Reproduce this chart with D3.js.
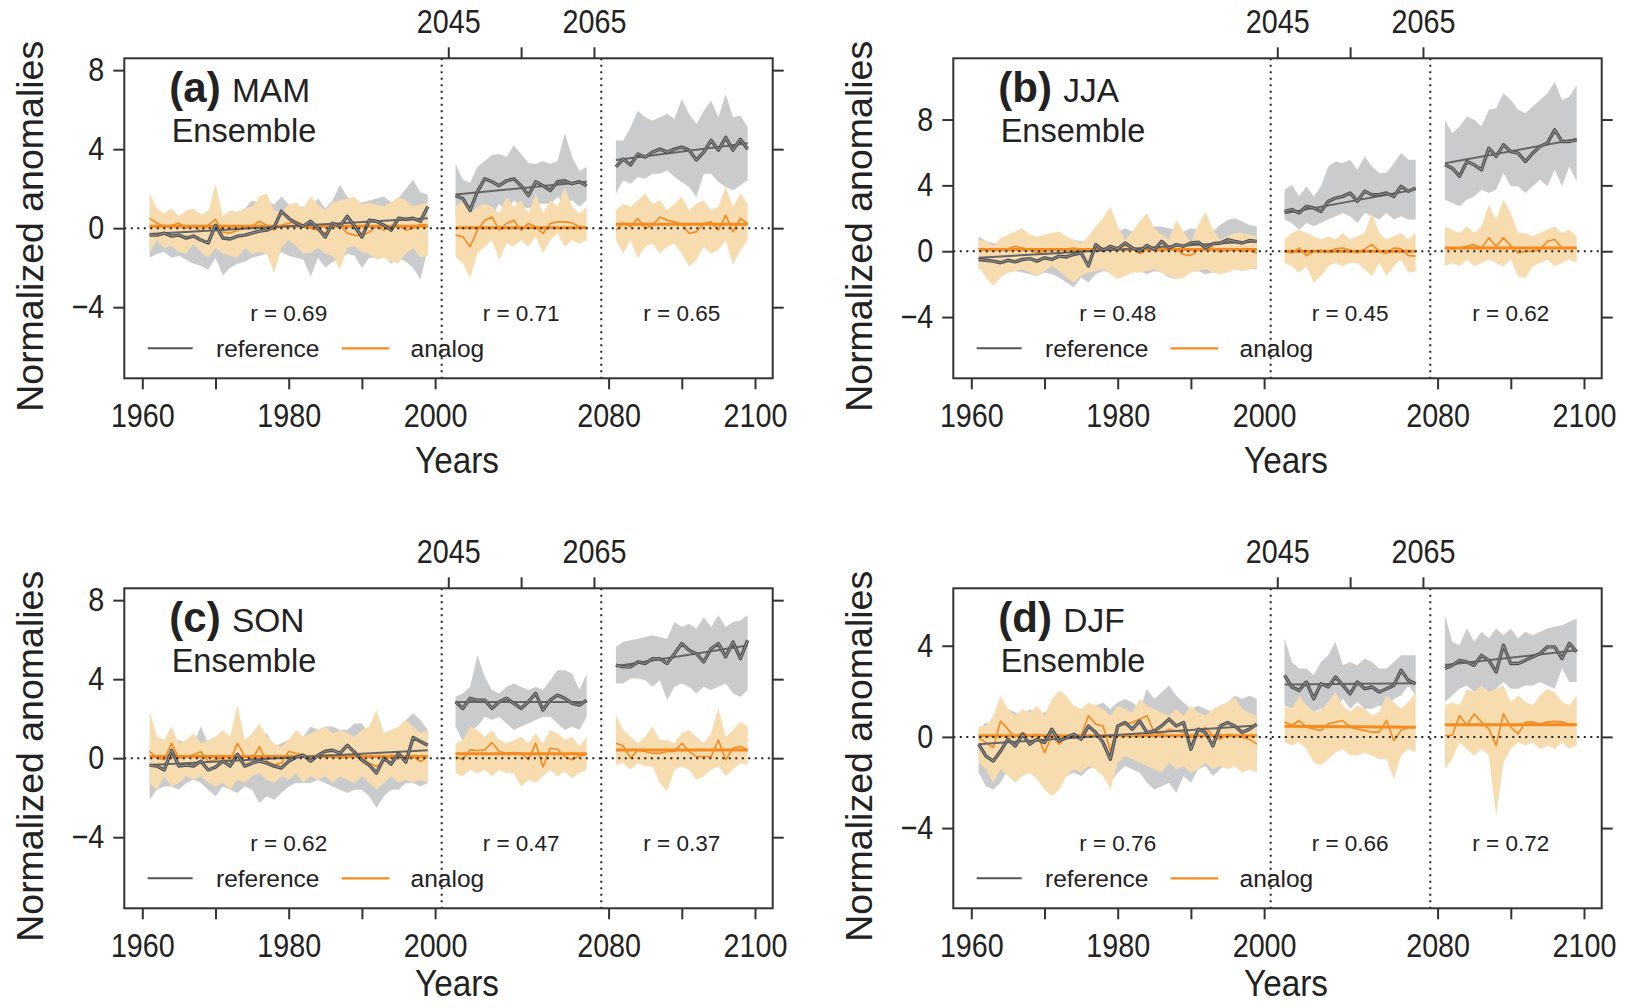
<!DOCTYPE html>
<meta charset="utf-8">
<script src="https://d3js.org/d3.v7.min.js"></script>
<style>
  body { margin: 0; background: #fff; overflow: hidden; }
  svg text { font-family: "Liberation Sans", Arial, Helvetica, sans-serif; fill: #222; }
</style>
<body>
<div id="chart"></div>
<script>
// years shown in each of the three blocks
const segments = [[1961, 1999], [2046, 2064], [2081, 2099]];
const years = segments.flatMap(([a, b]) => d3.range(a, b + 1));

const bottomTicks = [1960, 1970, 1980, 1990, 2000, 2080, 2090, 2100];
const bottomLabels = [1960, 1980, 2000, 2080, 2100];
const topTicks = [2045, 2055, 2065];
const topLabels = [2045, 2065];

// ---- MAM ----
const mamRef = [-0.35,-0.35,-0.25,-0.4,-0.35,-0.5,-0.4,-0.6,-0.75,0.15,-0.5,-0.55,-0.4,-0.35,-0.25,-0.15,-0.1,0.05,0.85,0.5,0.25,0.1,0.35,0.0,-0.45,0.25,0.1,0.6,0.1,-0.45,0.4,0.35,0.15,-0.1,0.5,0.45,0.5,0.35,1.1,
  1.65,1.5,0.9,1.85,2.5,2.35,2.15,2.4,2.5,2.15,1.65,2.35,2.15,1.9,2.35,2.4,2.25,2.35,2.15,
  3.1,3.5,3.2,3.75,3.6,3.85,4.0,3.85,4.0,4.1,3.95,3.45,3.85,4.45,3.95,4.6,3.95,4.5,4.0];
const mamRefLo = [-1.5,-1.3,-1.2,-1.5,-1.4,-1.6,-1.8,-1.9,-2.1,-1.5,-2.4,-2.0,-1.8,-1.7,-1.5,-1.4,-1.3,-1.6,-1.2,-1.4,-1.5,-1.6,-2.45,-1.5,-2.0,-1.7,-1.6,-1.3,-1.4,-2.0,-1.5,-1.5,-1.4,-1.8,-1.5,-1.7,-2.0,-2.6,-1.0,
  0.57,0.4,0.74,0.91,1.08,0.57,1.24,0.74,1.41,1.08,0.99,1.24,1.24,1.24,1.58,1.24,1.41,1.08,1.41,
  1.75,2.42,2.25,2.59,2.5,2.76,2.76,2.92,2.59,2.34,2.08,1.58,2.76,2.76,2.34,2.08,1.92,2.17,2.42];
const mamRefHi = [0.9,0.7,0.6,0.8,0.5,0.6,0.7,0.5,0.9,1.1,0.5,0.7,0.8,1.0,1.4,1.3,1.4,1.2,1.6,1.2,1.0,1.1,1.0,1.5,1.0,1.4,2.2,1.6,1.2,1.3,1.4,1.5,1.6,1.3,1.5,2.0,2.45,1.8,1.7,
  3.25,2.45,2.3,3.1,3.4,3.7,3.75,3.6,4.2,3.75,3.3,3.25,3.4,3.25,3.4,4.8,3.6,2.9,3.1,
  4.44,4.44,5.11,5.95,5.61,5.45,5.61,5.78,5.53,6.54,5.78,5.28,5.95,6.45,5.61,6.79,5.61,5.7,5.11];
const mamAna = [0.5,0.25,0.1,0.15,0.25,0.0,0.1,-0.15,0.15,0.45,-0.2,-0.25,-0.1,0.0,0.1,0.35,0.15,-0.1,0.15,0.25,0.35,0.15,0.0,-0.1,-0.25,0.1,0.15,-0.25,-0.35,-0.4,-0.2,0.1,-0.1,0.1,0.15,-0.1,0.0,0.2,0.15,
  -0.35,-0.44,-0.94,-0.1,0.4,0.57,-0.1,0.24,0.4,-0.1,0.24,0.07,-0.27,0.24,0.32,0.32,0.27,0.07,0.03,
  -0.1,0.27,0.07,0.49,-0.02,0.15,0.57,0.4,0.32,0.2,-0.27,-0.18,0.24,0.32,-0.1,0.66,-0.18,0.49,0.24];
const mamAnaLo = [-1.25,-0.6,-1.0,-0.9,-1.2,-1.3,-0.8,-1.2,-1.5,-1.0,-1.3,-1.4,-1.5,-1.0,-1.3,-1.2,-1.3,-2.27,-1.0,-0.6,-0.9,-1.3,-1.25,-1.0,-1.3,-1.4,-2.1,-1.0,-0.9,-1.2,-1.3,-1.6,-1.5,-1.7,-1.76,-1.3,-1.0,-1.5,-1.4,
  -1.45,-1.78,-2.54,-1.28,-0.94,-0.61,-1.61,-0.77,-0.94,-0.61,-0.94,-0.44,-1.28,-0.61,-0.27,-0.94,-0.61,-0.77,-0.61,
  -0.61,-1.28,-0.61,-1.53,-0.94,-0.77,-1.28,-0.94,-0.77,-1.28,-1.95,-1.61,-0.94,-1.28,-1.11,-0.61,-1.87,-1.11,-0.61];
const mamAnaHi = [1.75,1.0,0.75,1.0,0.6,0.9,1.0,0.7,0.8,2.25,0.6,0.9,0.8,1.0,1.1,1.6,1.75,0.9,0.8,1.2,1.3,1.0,1.6,1.2,0.9,1.3,1.4,1.5,1.6,1.2,1.3,1.2,1.1,1.3,1.6,1.4,1.1,1.2,1.3,
  1.08,1.41,0.74,1.08,1.24,1.08,0.74,1.58,1.08,1.41,0.74,1.75,0.74,1.41,1.08,2.08,1.08,0.74,1.08,
  0.91,1.24,1.08,1.41,1.75,1.24,1.41,0.91,1.24,1.58,0.91,1.24,1.41,0.91,1.08,2.08,1.08,1.75,1.24];
const mamRefTrend = [[-0.3, 0.5], [1.7, 2.35], [3.45, 4.3]];
const mamAnaTrend = [[0.1, 0.1], [0.02, 0.02], [0.2, 0.2]];

// ---- JJA ----
const jjaRef = [-0.5,-0.55,-0.6,-0.7,-0.55,-0.65,-0.5,-0.45,-0.6,-0.4,-0.5,-0.3,-0.35,-0.2,-0.1,-0.9,0.4,0.05,0.3,0.15,0.5,0.2,0.0,0.35,0.1,0.6,0.2,0.4,0.3,0.5,0.55,0.2,0.45,0.5,0.7,0.6,0.5,0.65,0.6,
  2.42,2.53,2.32,2.73,2.63,2.42,3.03,3.23,3.33,3.54,3.03,3.64,3.43,3.43,3.54,3.33,3.94,3.64,3.84,
  5.25,5.05,4.55,5.45,5.25,4.95,6.26,5.76,6.46,6.06,5.96,5.45,5.96,6.36,6.57,7.37,6.67,6.67,6.77];
const jjaRefLo = [-1.1,-1.0,-1.2,-1.1,-1.3,-1.2,-1.3,-1.4,-1.5,-1.3,-1.4,-1.6,-1.9,-2.2,-1.6,-1.9,-1.4,-1.2,-1.3,-1.3,-1.4,-1.3,-1.2,-1.4,-1.2,-1.3,-1.6,-1.7,-1.5,-1.3,-1.2,-1.4,-1.3,-1.2,-1.1,-1.0,-1.2,-1.1,-1.1,
  1.92,1.72,1.31,1.72,1.52,1.72,1.92,2.12,2.32,2.12,1.72,2.32,2.12,1.92,2.32,1.92,2.12,1.92,1.92,
  3.13,2.93,2.73,3.13,3.33,3.74,3.54,3.74,4.75,3.94,3.94,3.54,3.94,4.34,3.94,4.95,3.94,5.15,4.24];
const jjaRefHi = [0.9,0.6,0.5,0.4,0.5,0.6,0.5,0.7,0.8,0.6,0.9,0.9,0.8,0.7,0.6,0.7,1.0,1.5,1.3,1.2,1.4,1.2,1.1,1.3,1.5,1.5,1.4,1.3,1.2,1.4,1.3,1.3,1.2,1.6,1.9,2.0,1.8,1.6,1.5,
  3.74,4.04,3.33,3.94,3.33,3.94,5.15,5.45,5.35,5.56,4.95,5.76,5.15,4.75,4.75,5.35,5.96,5.56,5.56,
  7.98,7.17,7.58,8.18,7.98,7.58,8.59,8.69,9.6,9.19,8.59,8.38,8.79,9.19,9.6,10.3,9.19,9.39,10.1];
const jjaAna = [0.1,0.15,0.0,0.1,0.15,0.3,0.2,0.1,-0.1,0.0,0.1,0.05,0.15,0.2,0.1,0.0,0.1,0.2,0.15,0.05,0.35,0.2,-0.15,0.1,0.2,0.0,0.25,0.1,-0.2,-0.25,0.05,0.1,0.2,-0.05,0.1,0.15,0.0,0.05,-0.1,
  0,-0.1,0.2,-0.26,0,0.06,-0.06,0.14,0.2,0.06,-0.1,0.14,0.4,0,-0.14,0.2,0.14,-0.26,-0.3,
  0.2,0.14,0.2,0.3,0.4,0.2,0.81,0.3,0.81,0.34,-0.1,0,0,0.1,0.61,0.71,0.2,0.2,0.2];
const jjaAnaLo = [-0.9,-1.6,-2.1,-1.6,-1.3,-1.2,-1.1,-1.3,-1.5,-1.2,-0.9,-1.2,-1.6,-1.9,-1.5,-1.3,-1.2,-1.1,-1.4,-1.7,-1.5,-1.3,-1.3,-1.2,-1.1,-1.3,-1.5,-1.7,-1.6,-1.3,-1.2,-1.1,-1.3,-1.4,-1.3,-1.1,-1.2,-1.1,-1.0,
  -0.71,-0.91,-1.31,-0.91,-1.92,-1.52,-0.91,-0.71,-0.91,-0.71,-0.71,-1.11,-1.52,-0.71,-1.52,-0.91,-0.51,-1.31,-1.21,
  -0.91,-0.71,-0.91,-0.51,-0.91,-0.71,-0.51,-0.71,-0.91,-0.51,-1.52,-1.62,-0.91,-0.71,-0.51,-0.91,-0.71,-0.51,-0.71];
const jjaAnaHi = [0.7,0.6,0.3,0.8,1.0,1.2,1.4,1.0,0.9,1.0,1.1,1.2,0.9,0.7,0.5,0.9,1.5,2.0,2.7,1.5,0.7,1.2,1.8,2.3,1.4,1.0,0.7,1.9,1.2,0.5,1.6,2.4,1.3,0.7,0.9,1.1,1.1,1.0,0.9,
  0.71,1.11,1.31,1.11,0.91,0.71,0.91,0.71,1.11,0.71,0.91,1.11,2.32,1.11,0.71,0.91,1.11,0.71,1.11,
  1.52,1.31,1.11,1.52,1.11,1.52,2.83,1.92,3.13,2.32,1.11,1.11,0.91,1.11,1.31,1.52,1.11,1.31,0.91];
const jjaRefTrend = [[-0.4, 0.6], [2.3, 3.75], [5.35, 6.8]];
const jjaAnaTrend = [[0.1, 0.1], [0.0, 0.0], [0.2, 0.2]];

// ---- SON ----
const sonRef = [-0.35,-0.4,-0.6,0.4,-0.4,-0.35,-0.4,-0.15,-0.6,-0.45,-0.15,-0.4,0.2,-0.4,-0.25,-0.15,-0.25,-0.4,-0.5,-0.15,0.05,0.15,-0.15,0.15,0.35,0.4,0.25,0.65,0.3,-0.1,-0.35,-0.75,0.0,-0.3,0.25,-0.2,1.05,0.85,0.65,
  2.86,2.52,3.03,2.94,2.94,2.52,2.86,3.03,2.77,2.52,2.86,3.28,2.44,2.94,3.19,3.03,2.77,2.69,2.94,
  4.71,4.62,4.62,4.87,4.79,5.04,5.04,4.79,5.29,5.8,5.46,5.29,4.87,5.55,5.8,5.13,5.88,5.04,5.97];
const sonRefLo = [-2.1,-1.6,-1.43,-1.43,-1.6,-1.26,-1.09,-1.26,-1.6,-1.93,-1.43,-1.6,-1.76,-1.43,-1.6,-2.27,-1.93,-2.1,-1.76,-1.43,-1.26,-1.26,-1.26,-1.09,-1.26,-1.43,-1.6,-1.76,-1.6,-1.6,-1.93,-2.52,-1.93,-1.6,-1.6,-1.26,-1.26,-1.43,-1.26,
  1.6,0.84,1.43,1.6,2.1,1.93,2.1,1.76,1.43,1.6,1.76,1.93,2.1,2.1,1.76,1.43,1.6,1.43,2.1,
  3.78,3.78,4.03,4.03,3.95,3.61,3.95,2.94,3.61,3.78,3.61,3.28,3.61,3.45,3.61,3.78,3.28,3.11,3.45];
const sonRefHi = [0.76,1.09,0.76,0.59,0.92,0.76,0.76,1.6,0.76,0.59,0.92,0.76,0.59,0.76,0.76,0.92,1.26,0.59,0.76,0.92,1.26,1.09,1.6,1.43,1.6,1.6,1.43,1.43,1.76,1.76,1.26,1.6,1.09,1.43,1.26,1.93,2.27,1.93,1.43,
  3.11,3.28,3.61,5.21,4.12,3.45,3.28,3.61,3.78,3.61,3.45,3.61,3.45,3.95,4.45,4.45,4.29,3.45,4.29,
  5.63,5.88,5.97,6.05,6.13,6.22,6.13,6.05,6.89,6.64,6.81,6.55,7.14,6.64,7.23,6.64,6.89,6.97,7.23];
const sonAna = [0.34,0,-0.08,0.76,0,0.08,0.17,0.34,-0.17,-0.08,0,-0.17,0.76,0.08,-0.08,0.59,-0.17,-0.34,-0.25,0.34,0.25,0.17,-0.08,0.08,0.17,0.17,0,0.08,0.17,0,-0.25,-0.42,-0.17,0.17,0.08,-0.08,0.08,-0.17,0.08,
  0.08,-0.08,0.42,0.39,0.42,0.79,0.34,0.25,0.29,0.25,-0.08,0.76,-0.45,0.5,0.45,0.08,-0.08,0.12,0.17,
  0.76,0.62,0,0.42,0.34,0.25,0.25,0.34,0.34,0.76,0.34,0.08,0.08,0.08,0.92,-0.08,0.5,0.59,0.42];
const sonAnaLo = [-1.26,-1.6,-0.92,-1.43,-1.26,-0.92,-1.09,-0.92,-1.26,-1.43,-1.26,-1.6,-1.09,-1.26,-0.92,-0.76,-1.09,-1.26,-0.92,-1.09,-0.76,-1.26,-0.92,-1.09,-0.92,-1.26,-0.92,-1.09,-1.26,-0.92,-1.26,-1.6,-1.26,-0.92,-1.26,-1.09,-1.26,-1.09,-1.26,
  -0.76,-0.92,-0.59,-0.76,-0.59,-0.92,-0.59,-0.76,-0.76,-1.43,-1.09,-1.26,-0.92,-0.59,-0.92,-0.67,-1.01,-0.76,-0.59,
  -0.34,-0.25,-0.59,-0.25,-0.42,-0.42,-1.26,-1.68,-0.59,-0.42,-0.59,-1.09,-0.92,-0.59,-0.42,-0.92,-0.59,-0.25,-0.34];
const sonAnaHi = [2.35,1.09,0.92,1.6,0.76,0.92,1.26,0.76,0.92,1.09,1.43,1.09,2.69,0.92,1.26,1.76,1.09,0.76,0.59,0.92,1.43,1.09,1.26,1.43,1.6,1.26,1.43,1.26,1.09,1.43,1.6,2.44,1.26,1.43,1.6,1.93,1.6,1.26,1.43,
  0.76,0.92,1.6,1.43,1.09,1.43,0.92,0.76,0.92,1.09,0.76,1.26,0.76,1.43,1.26,0.92,1.09,0.59,1.09,
  2.18,1.43,1.09,0.76,1.09,1.6,0.92,0.92,0.76,1.26,1.43,1.09,0.76,1.26,2.52,1.09,1.43,1.85,1.6];
const sonRefTrend = [[-0.35, 0.4], [2.85, 2.85], [4.65, 5.7]];
const sonAnaTrend = [[0.08, 0.08], [0.22, 0.22], [0.42, 0.42]];

// ---- DJF ----
const djfRef = [-0.32,-0.84,-1.06,-0.62,-0.1,-0.4,0.12,-0.32,-0.1,-0.25,0.34,-0.18,-0.03,0.12,-0.1,0.48,0.19,-0.25,-0.98,0.48,0.63,0.34,0.7,0.19,0.26,0.48,0.78,0.48,0.63,-0.54,0.34,0.19,-0.4,0.48,0.63,0.48,0.19,0.34,0.56,
  2.7,2.19,2.04,2.41,1.67,2.33,2.19,2.63,2.26,1.89,2.41,2.11,2.19,1.97,2.11,2.26,2.92,2.48,2.33,
  3.0,3.14,3.36,3.29,3.14,3.58,3.36,2.85,4.02,3.22,3.22,3.36,3.51,3.66,3.95,3.95,3.44,4.1,3.73];
const djfRefLo = [-1.57,-2.16,-2.31,-2.01,-1.42,-1.13,-1.42,-1.28,-1.57,-1.72,-2.01,-1.57,-1.72,-1.57,-1.72,-1.42,-1.28,-1.57,-2.01,-1.57,-1.28,-1.42,-1.57,-2.01,-2.31,-2.16,-2.01,-2.45,-1.72,-2.01,-1.42,-1.28,-1.72,-1.42,-1.13,-1.28,-1.42,-1.28,-1.13,
  1.38,1.23,1.53,1.38,1.09,1.23,0.94,1.23,1.67,1.23,1.53,1.23,1.23,1.38,1.23,1.67,1.82,2.26,1.82,
  1.53,1.82,2.11,2.26,1.97,2.11,1.82,2.11,2.41,2.11,2.11,2.26,2.26,2.41,2.26,2.11,3.0,2.41,2.41];
const djfRefHi = [0.34,0.63,0.48,0.78,1.22,1.07,0.93,1.22,0.93,1.07,1.22,1.37,1.22,0.93,1.22,1.07,1.37,1.51,1.22,1.51,1.66,1.51,1.22,2.1,1.66,1.95,2.25,1.81,1.51,1.22,1.37,1.22,1.07,1.37,1.51,1.81,1.66,1.81,1.66,
  4.32,3.29,3.0,3.0,2.7,3.29,3.58,4.17,3.14,3.29,3.14,3.44,3.29,3.0,3.0,3.29,3.58,3.58,3.58,
  5.35,4.17,4.02,4.76,4.17,4.61,4.32,4.76,4.46,4.76,4.32,4.61,4.46,4.61,4.76,4.83,4.9,5.05,5.2];
const djfAna = [-0.03,-0.25,-0.47,0.7,0.34,-0.03,0.19,0.04,0.12,-0.69,0.04,-0.32,0.04,0.12,0.04,0.93,0.56,0.48,-0.62,0.48,0.56,0.63,0.78,0.93,0.19,0.12,0.34,0.26,0.19,-0.03,0.26,0.41,0.04,-0.1,0.12,0.04,-0.03,-0.1,-0.32,
  0.65,0.5,0.72,0.43,0.35,0.28,0.57,0.65,0.72,0.43,0.35,0.28,0.21,0.21,0.72,-0.16,0.28,0.43,0.43,
  0.06,0.06,0.94,0.5,1.01,0.65,0.35,-0.38,1.01,0.43,0.13,0.65,0.65,0.57,0.65,0.68,0.65,0.57,0.53];
const djfAnaLo = [-1.13,-1.42,-2.01,-1.42,-1.72,-2.01,-1.72,-1.57,-1.86,-2.31,-2.6,-2.31,-1.72,-1.42,-1.57,-1.28,-1.42,-1.72,-2.31,-1.13,-0.84,-0.98,-1.13,-1.28,-1.42,-1.57,-1.13,-1.42,-1.28,-1.57,-1.42,-1.13,-1.42,-1.28,-1.42,-1.28,-1.57,-1.42,-1.57,
  -0.23,-0.38,-0.23,-0.53,-1.12,-1.26,-0.97,-0.68,-0.53,-0.82,-0.82,-0.68,-0.82,-0.97,-0.97,-1.85,-0.82,-0.53,-0.68,
  -1.41,-0.97,-0.23,-0.53,-0.82,-0.53,-0.82,-3.47,-1.12,-0.53,-0.23,-0.38,-0.23,-0.53,-0.38,-0.53,-0.23,-0.53,-0.38];
const djfAnaHi = [0.48,0.48,0.93,1.81,1.22,0.93,1.22,1.07,1.37,0.93,1.66,2.03,1.81,1.37,1.22,1.51,1.37,1.22,0.93,1.37,1.22,1.07,1.66,1.37,1.22,1.07,0.93,1.22,0.93,1.37,1.07,0.93,1.22,1.37,1.51,1.73,1.22,1.07,0.93,
  1.31,1.23,1.82,1.38,1.09,1.16,1.53,1.97,1.38,1.09,1.38,1.23,0.94,1.09,1.82,1.53,1.23,1.53,1.97,
  1.38,1.53,1.38,2.11,1.97,2.26,1.97,2.11,2.26,1.53,1.82,1.53,1.38,1.82,2.11,1.97,1.53,1.38,1.82];
const djfRefTrend = [[-0.32, 0.5], [2.3, 2.35], [3.15, 3.8]];
const djfAnaTrend = [[0.05, 0.05], [0.47, 0.42], [0.53, 0.53]];

const panels = [
  { tag: "(a)", season: "MAM", ylim: [-7, 8], yticks: [-4, 0, 4, 8], r: ["0.69", "0.71", "0.65"], left: 124.3, top: 58.3,
    ref: mamRef, refLo: mamRefLo, refHi: mamRefHi, ana: mamAna, anaLo: mamAnaLo, anaHi: mamAnaHi, refTrend: mamRefTrend, anaTrend: mamAnaTrend },
  { tag: "(b)", season: "JJA", ylim: [-7, 11], yticks: [-4, 0, 4, 8], r: ["0.48", "0.45", "0.62"], left: 953.3, top: 58.3,
    ref: jjaRef, refLo: jjaRefLo, refHi: jjaRefHi, ana: jjaAna, anaLo: jjaAnaLo, anaHi: jjaAnaHi, refTrend: jjaRefTrend, anaTrend: jjaAnaTrend },
  { tag: "(c)", season: "SON", ylim: [-7, 8], yticks: [-4, 0, 4, 8], r: ["0.62", "0.47", "0.37"], left: 124.3, top: 588.3,
    ref: sonRef, refLo: sonRefLo, refHi: sonRefHi, ana: sonAna, anaLo: sonAnaLo, anaHi: sonAnaHi, refTrend: sonRefTrend, anaTrend: sonAnaTrend },
  { tag: "(d)", season: "DJF", ylim: [-7, 6], yticks: [-4, 0, 4], r: ["0.76", "0.66", "0.72"], left: 953.3, top: 588.3,
    ref: djfRef, refLo: djfRefLo, refHi: djfRefHi, ana: djfAna, anaLo: djfAnaLo, anaHi: djfAnaHi, refTrend: djfRefTrend, anaTrend: djfAnaTrend }
];

const WIDTH = 1634, HEIGHT = 1008;
const W = 648.4, H = 320;

// the x axis is broken: three blocks of years laid side by side
const axisYears = [1960, 2000, 2045, 2065, 2080, 2100];
const axisUnits = [0, 40, 41.8, 61.7, 63.7, 83.7];
const unitPx = d3.scaleLinear().domain([-2.46, 86.12]).range([0, W]);

const GRAY_BAND = "#c9cbcc", ORANGE_BAND = "#f7dcb0";
const DARK = "#505050", ORANGE = "#f58a1f";

const svg = d3.select("#chart").append("svg")
  .attr("width", WIDTH)
  .attr("height", HEIGHT);

function squeezeText(sel, size, sx) {
  sel.style("font-size", size + "px").attr("transform", `scale(${sx},1)`);
}

panels.forEach(p => {
  const g = svg.append("g").attr("transform", `translate(${p.left},${p.top})`);

  const x = d3.scaleLinear().domain(axisYears).range(axisUnits.map(unitPx));
  const pad = (p.ylim[1] - p.ylim[0]) * 0.04;
  const y = d3.scaleLinear().domain([p.ylim[0] - pad, p.ylim[1] + pad]).range([H, 0]);

  let offset = 0;
  const segs = segments.map(([a, b], k) => {
    const n = b - a + 1;
    const pts = d3.range(n).map(i => ({
      year: years[offset + i],
      ref: p.ref[offset + i], refLo: p.refLo[offset + i], refHi: p.refHi[offset + i],
      ana: p.ana[offset + i], anaLo: p.anaLo[offset + i], anaHi: p.anaHi[offset + i]
    }));
    offset += n;
    return { pts, a, b, refTrend: p.refTrend[k], anaTrend: p.anaTrend[k] };
  });

  const plot = g.append("g");

  const area = (lo, hi) => d3.area().x(d => x(d.year)).y0(d => y(d[lo])).y1(d => y(d[hi]));
  const line = key => d3.line().x(d => x(d.year)).y(d => y(d[key]));

  segs.forEach(s => {
    plot.append("path").datum(s.pts).attr("d", area("refLo", "refHi")).attr("fill", GRAY_BAND);
  });
  segs.forEach(s => {
    plot.append("path").datum(s.pts).attr("d", area("anaLo", "anaHi")).attr("fill", ORANGE_BAND);
  });

  segs.forEach(s => {
    const trend = [{ year: s.a, v: s.anaTrend[0] }, { year: s.b, v: s.anaTrend[1] }];
    plot.append("path").datum(s.pts).attr("d", line("ana"))
      .attr("fill", "none").attr("stroke", ORANGE).attr("stroke-width", 1.6).attr("stroke-linejoin", "round");
    plot.append("path").datum(trend).attr("d", d3.line().x(d => x(d.year)).y(d => y(d.v)))
      .attr("fill", "none").attr("stroke", ORANGE).attr("stroke-width", 3);
  });

  segs.forEach(s => {
    const trend = [{ year: s.a, v: s.refTrend[0] }, { year: s.b, v: s.refTrend[1] }];
    plot.append("path").datum(trend).attr("d", d3.line().x(d => x(d.year)).y(d => y(d.v)))
      .attr("fill", "none").attr("stroke", "#666").attr("stroke-width", 2);
    plot.append("path").datum(s.pts).attr("d", line("ref"))
      .attr("fill", "none").attr("stroke", DARK).attr("stroke-width", 3.4).attr("stroke-linejoin", "round");
    plot.append("path").datum(s.pts).attr("d", line("ref"))
      .attr("fill", "none").attr("stroke", "#8e8e8e").attr("stroke-width", 1.1).attr("stroke-linejoin", "round");
  });

  // dotted zero line and block separators
  g.append("line")
    .attr("x1", 0).attr("x2", W).attr("y1", y(0)).attr("y2", y(0))
    .attr("stroke", "#222").attr("stroke-width", 2).attr("stroke-dasharray", "2,4.5");
  [[segs[0].b, segs[1].a], [segs[1].b, segs[2].a]].forEach(([e, s]) => {
    const sx = (x(e) + x(s)) / 2;
    g.append("line")
      .attr("x1", sx).attr("x2", sx).attr("y1", 0).attr("y2", H)
      .attr("stroke", "#222").attr("stroke-width", 2).attr("stroke-dasharray", "2,4.5");
  });

  // r labels
  segs.forEach((s, k) => {
    g.append("text")
      .attr("x", (x(s.a) + x(s.b)) / 2).attr("y", H - 57.6)
      .attr("text-anchor", "middle").style("font-size", "22.5px")
      .text("r = " + p.r[k]);
  });

  // legend
  const leg = g.append("g").attr("transform", `translate(0,${H - 30})`);
  leg.append("line").attr("x1", 23.4).attr("x2", 68.4).attr("stroke", "#555").attr("stroke-width", 2);
  leg.append("text").attr("x", 91.7).attr("y", 8.4).style("font-size", "24.5px").text("reference");
  leg.append("line").attr("x1", 217.4).attr("x2", 265).attr("stroke", ORANGE).attr("stroke-width", 2.2);
  leg.append("text").attr("x", 286.3).attr("y", 8.4).style("font-size", "24.5px").text("analog");

  // title
  const t = g.append("text").attr("x", 45).attr("y", 43.7);
  t.append("tspan").style("font-weight", "bold").style("font-size", "42px").text(p.tag);
  t.append("tspan").style("font-size", "33.5px").attr("dx", 2).text(" " + p.season);
  g.append("text").attr("x", 47.4).attr("y", 83.4).style("font-size", "32.5px").text("Ensemble");

  // box
  g.append("rect").attr("width", W).attr("height", H)
    .attr("fill", "none").attr("stroke", "#333").attr("stroke-width", 2);

  // axes
  const TICK = 11, PADDING = 14, FS = 33, SX = 0.87;
  const xb = g.append("g").attr("transform", `translate(0,${H})`)
    .call(d3.axisBottom(x).tickValues(bottomTicks).tickSize(TICK).tickPadding(PADDING)
      .tickFormat(d => bottomLabels.includes(d) ? d : ""));
  const xt = g.append("g")
    .call(d3.axisTop(x).tickValues(topTicks).tickSize(TICK).tickPadding(PADDING)
      .tickFormat(d => topLabels.includes(d) ? d : ""));
  const yl = g.append("g")
    .call(d3.axisLeft(y).tickValues(p.yticks).tickSize(TICK).tickPadding(9));
  const yr = g.append("g").attr("transform", `translate(${W},0)`)
    .call(d3.axisRight(y).tickValues(p.yticks).tickSize(TICK).tickFormat(""));

  [xb, xt, yl, yr].forEach(a => {
    a.select(".domain").remove();
    a.selectAll(".tick line").attr("stroke", "#333").attr("stroke-width", 2);
    a.selectAll(".tick text").style("font-family", "'Liberation Sans', Arial, sans-serif").attr("fill", "#222");
  });
  [xb, xt].forEach(a => squeezeText(a.selectAll(".tick text"), FS, SX));
  squeezeText(yl.selectAll(".tick text"), FS, SX);
  yl.selectAll(".tick text").attr("x", -(TICK + 9) / SX);

  // axis titles (the lower row sits close to the page edge)
  const yearsY = p.top + H + 95 > HEIGHT - 12 ? H + 88 : H + 95;
  g.append("text")
    .attr("transform", `translate(${W / 2 + 8.5},${yearsY}) scale(0.9,1)`)
    .attr("text-anchor", "middle").style("font-size", "37px").text("Years");
  g.append("text")
    .attr("transform", `translate(-81,${H / 2 + 8}) rotate(-90)`)
    .attr("text-anchor", "middle").style("font-size", "37.5px").text("Normalized anomalies");
});
</script>
</body>
